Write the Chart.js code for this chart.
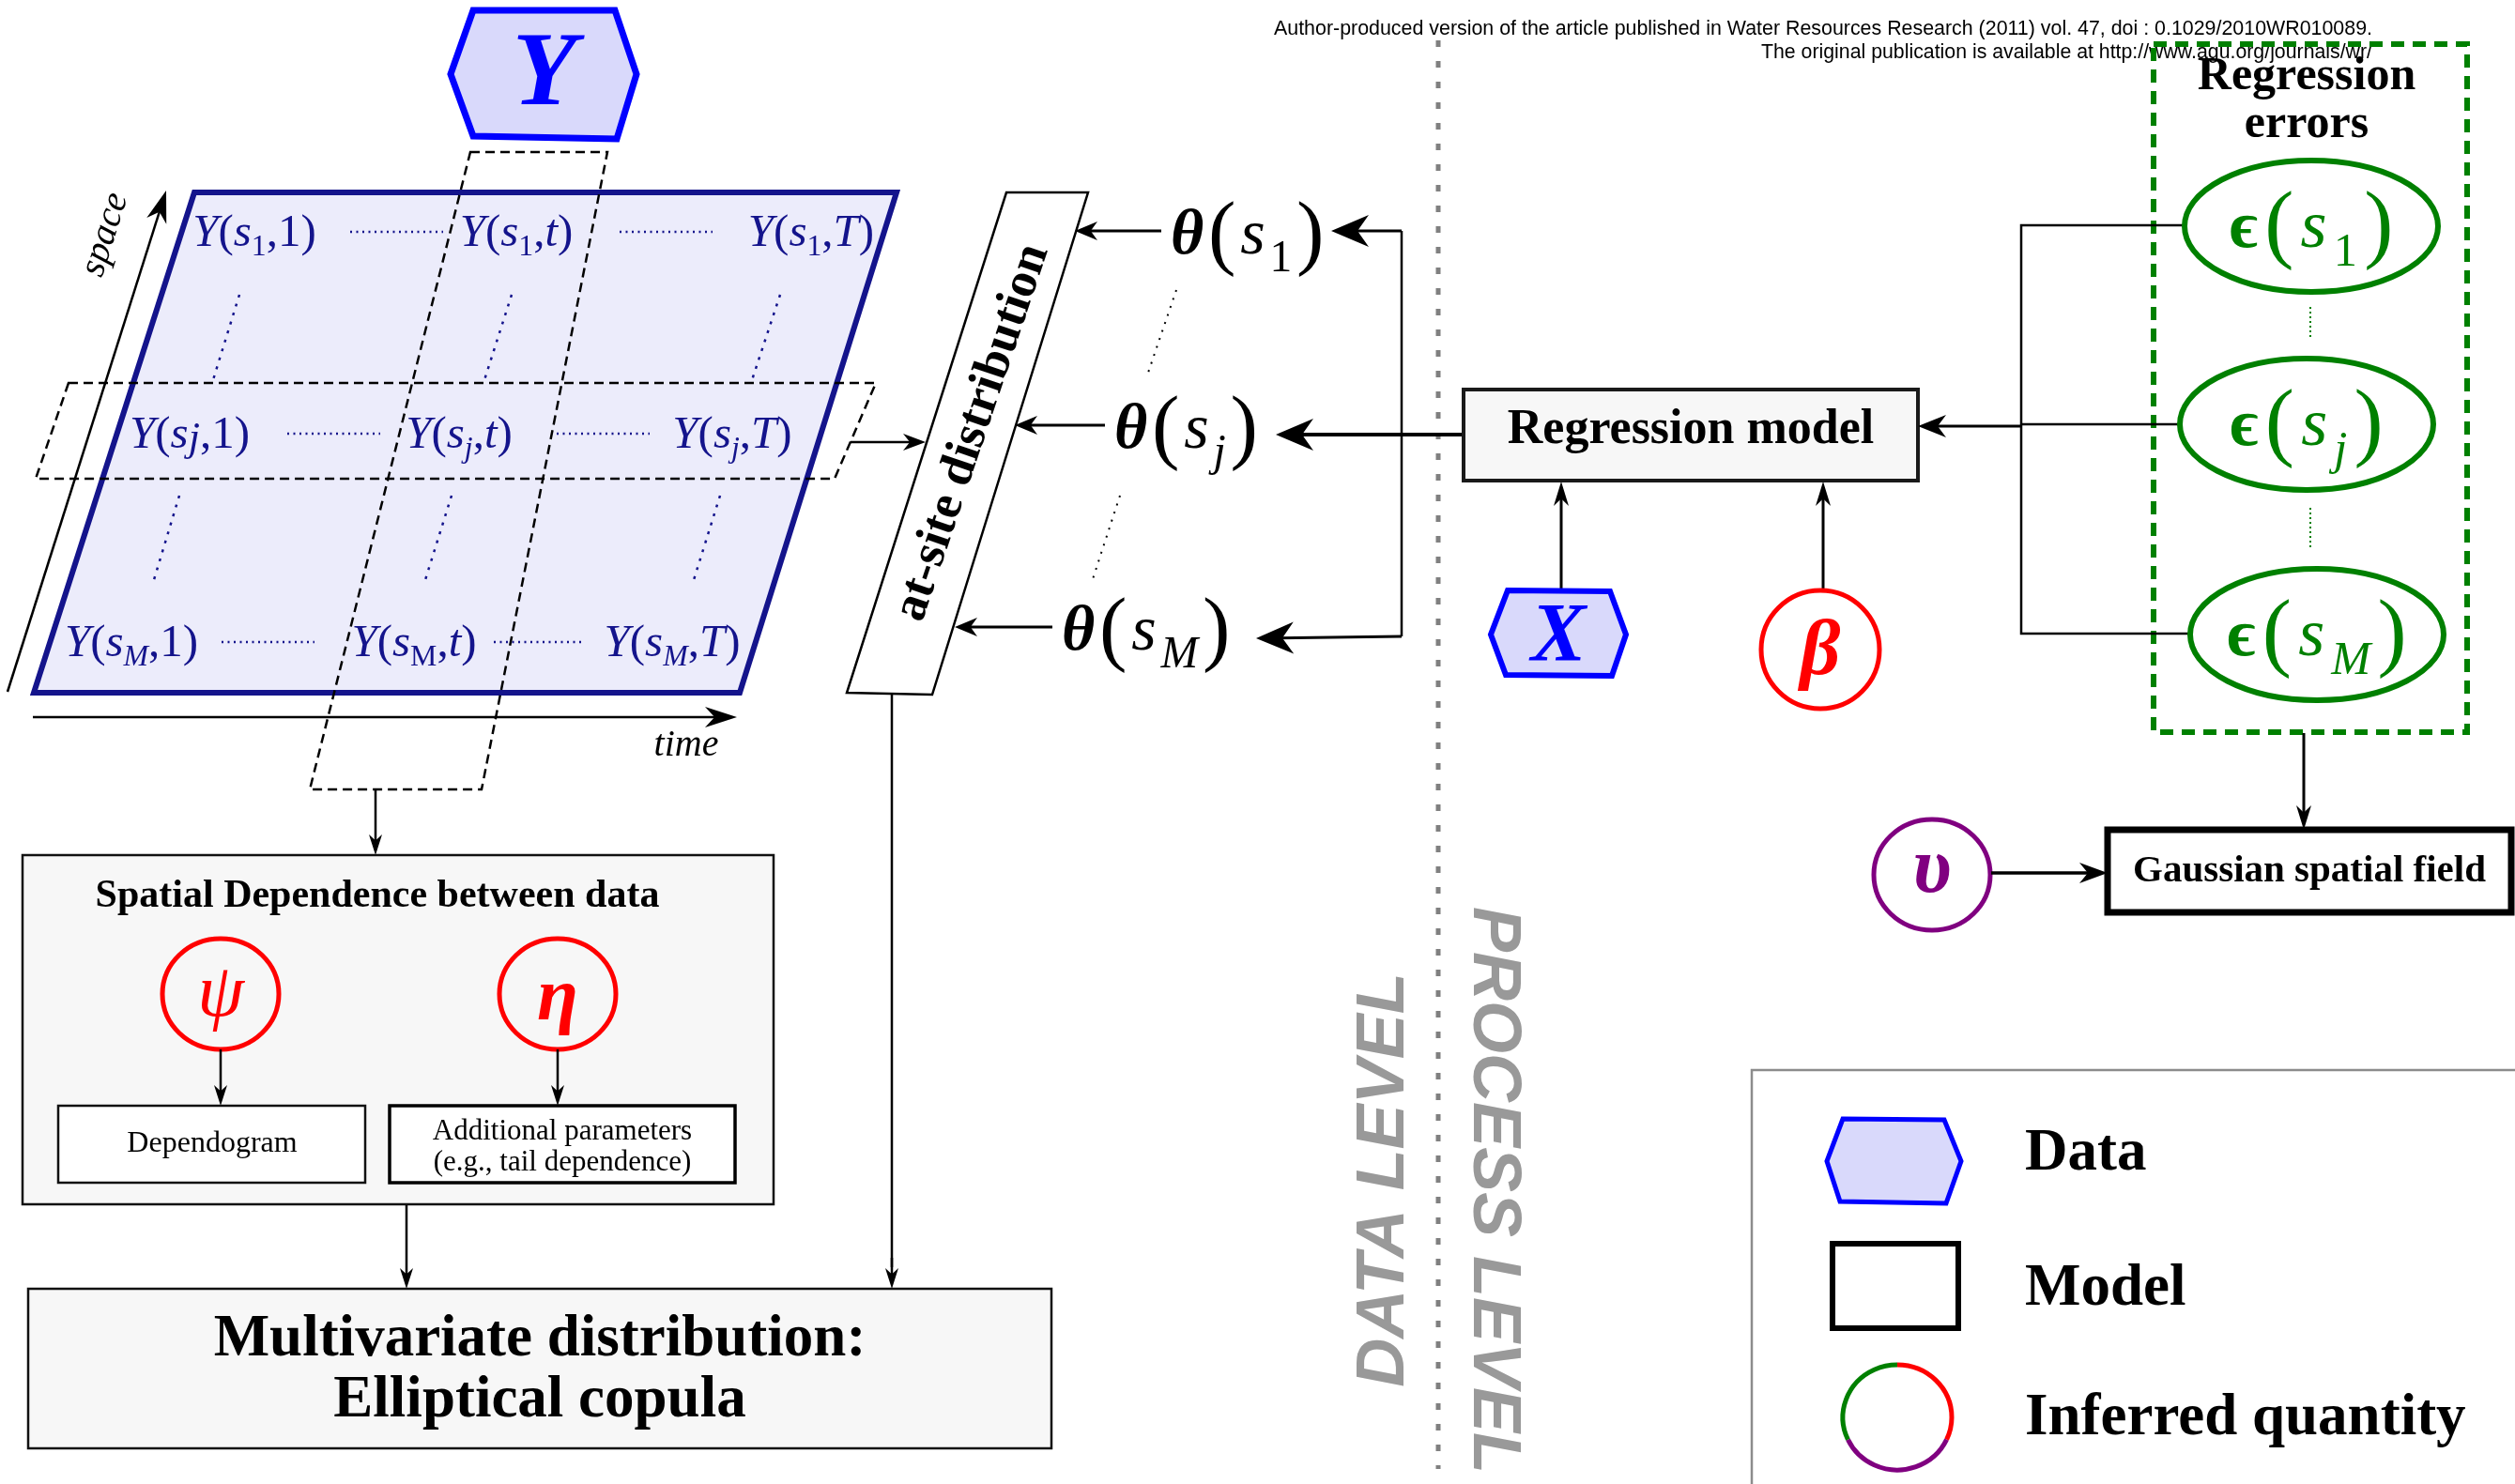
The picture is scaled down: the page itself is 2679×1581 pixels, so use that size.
<!DOCTYPE html>
<html>
<head>
<meta charset="utf-8">
<script src="https://cdn.jsdelivr.net/npm/chart.js@4.4.1/dist/chart.umd.min.js"></script>
<style>
  html, body { margin: 0; padding: 0; background: #fff; overflow: hidden; }
</style>
</head>
<body>
<canvas id="diagram" width="2679" height="1581"></canvas>
<script>
const SERIF = "'Liberation Serif','DejaVu Serif',serif";
const SANS = "'Liberation Sans','DejaVu Sans',sans-serif";

// ---- content of the figure ----
const headerLines = [
    'Author-produced version of the article published in Water Resources Research (2011) vol. 47, doi : 0.1029/2010WR010089.',
    'The original publication is available at http://www.agu.org/journals/wr/'
];
const siteIdx = ['1', 'j', 'M'];
const timeIdx = ['1', 't', 'T'];
const paramSyms = ['ψ', 'η', 'β', 'υ'];
const levelLabels = ['DATA LEVEL', 'PROCESS LEVEL'];
const legendLabels = ['Data', 'Model', 'Inferred quantity'];

// ---- layout (diagram units, mapped through the chart scales) ----
const cellX = [[271, 550, 864], [202, 489, 780], [140, 441, 716]];
const cellY = [247, 462, 684];
const cellDots = [[373, 472, 660, 759], [306, 405, 593, 692], [236, 335, 526, 622]];
const colDots = [
    [[255, 314], [226, 408]], [[545, 314], [515, 408]], [[831, 314], [800, 408]],
    [[191, 528], [163, 621]], [[481, 528], [452, 621]], [[767, 528], [738, 621]]
];
const thetaLeft = [1247, 1187, 1131];
const thetaY = [250, 457, 672];
const epsX = [2462, 2457, 2468];
const epsY = [241, 452, 676];
const paramX = [235, 594, 1939, 2058];
const paramY = [1059, 1059, 692, 932];

const sheet = [[207, 205], [955, 205], [788, 738], [36, 738]];
const stripV = [[501, 162], [647, 162], [513, 841], [330, 841]];
const stripH = [[73, 408], [933, 408], [889, 510], [38, 510]];
const atSite = [[1072, 205], [1159, 205], [993, 740], [902, 738]];
const hexY = [[504, 11], [655, 11], [678, 79], [657, 148], [504, 145], [480, 79]];
const hexX = [[1606, 629], [1715, 630], [1732, 676], [1717, 720], [1604, 719], [1588, 676]];
const hexLegend = [[1963, 1192], [2071, 1193], [2089, 1237], [2073, 1282], [1960, 1280], [1946, 1237]];

const chartData = {
    datasets: [{
        label: 'nodes',
        data: paramX.map((x, i) => ({ x: x, y: paramY[i] })),
        pointRadius: 0,
        showLine: false
    }]
};

// ---- drawing helpers ----
let px, py;
function path(ctx, pts, close) {
    ctx.beginPath();
    pts.forEach((p, i) => i ? ctx.lineTo(px(p[0]), py(p[1])) : ctx.moveTo(px(p[0]), py(p[1])));
    if (close) ctx.closePath();
}
function line(ctx, pts, col, w, dash) {
    ctx.save();
    path(ctx, pts, false);
    ctx.strokeStyle = col; ctx.lineWidth = w; ctx.setLineDash(dash || []);
    ctx.stroke();
    ctx.restore();
}
function poly(ctx, pts, col, w, fill, dash) {
    ctx.save();
    path(ctx, pts, true);
    if (fill) { ctx.fillStyle = fill; ctx.fill(); }
    ctx.strokeStyle = col; ctx.lineWidth = w; ctx.setLineDash(dash || []);
    ctx.lineJoin = 'miter';
    ctx.stroke();
    ctx.restore();
}
function rect(ctx, x1, y1, x2, y2, col, w, fill) {
    poly(ctx, [[x1, y1], [x2, y1], [x2, y2], [x1, y2]], col, w, fill);
}
function ellipse(ctx, cx, cy, rx, ry, col, w) {
    ctx.save();
    ctx.beginPath();
    ctx.ellipse(px(cx), py(cy), rx, ry, 0, 0, Math.PI * 2);
    ctx.strokeStyle = col; ctx.lineWidth = w;
    ctx.stroke();
    ctx.restore();
}
function arrow(ctx, a, b, col, w, L, W) {
    const x1 = px(a[0]), y1 = py(a[1]), x2 = px(b[0]), y2 = py(b[1]);
    const d = Math.hypot(x2 - x1, y2 - y1), ux = (x2 - x1) / d, uy = (y2 - y1) / d;
    const nx = -uy, ny = ux;
    ctx.save();
    ctx.strokeStyle = col; ctx.fillStyle = col; ctx.lineWidth = w;
    ctx.beginPath();
    ctx.moveTo(x1, y1);
    ctx.lineTo(x2 - ux * L * 0.6, y2 - uy * L * 0.6);
    ctx.stroke();
    ctx.beginPath();
    ctx.moveTo(x2, y2);
    ctx.lineTo(x2 - ux * L + nx * W, y2 - uy * L + ny * W);
    ctx.lineTo(x2 - ux * L * 0.7, y2 - uy * L * 0.7);
    ctx.lineTo(x2 - ux * L - nx * W, y2 - uy * L - ny * W);
    ctx.closePath();
    ctx.fill();
    ctx.restore();
}
function text(ctx, str, x, y, font, col, align, maxW) {
    ctx.save();
    ctx.font = font; ctx.fillStyle = col;
    ctx.textAlign = align || 'center'; ctx.textBaseline = 'middle';
    if (maxW) ctx.fillText(str, px(x), py(y), maxW); else ctx.fillText(str, px(x), py(y));
    ctx.restore();
}
function rotText(ctx, str, x, y, angle, font, col) {
    ctx.save();
    ctx.translate(px(x), py(y));
    ctx.rotate(angle * Math.PI / 180);
    ctx.font = font; ctx.fillStyle = col;
    ctx.textAlign = 'center'; ctx.textBaseline = 'middle';
    ctx.fillText(str, 0, 0);
    ctx.restore();
}
// parts: [text, style, scale, dy(em)]
function math(ctx, parts, x, y, size, col, align, gap) {
    ctx.save();
    ctx.fillStyle = col; ctx.textBaseline = 'alphabetic'; ctx.textAlign = 'left';
    const g = (gap || 0) * size;
    let widths = parts.map(p => { ctx.font = `${p[1]} ${size * p[2]}px ${SERIF}`; return ctx.measureText(p[0]).width; });
    let total = widths.reduce((s, v) => s + v, 0) + g * (parts.length - 1);
    let cx = align === 'left' ? px(x) : px(x) - total / 2;
    const base = py(y) + size * 0.3;
    parts.forEach((p, i) => {
        ctx.font = `${p[1]} ${size * p[2]}px ${SERIF}`;
        ctx.fillText(p[0], cx, base + (p[3] || 0) * size);
        cx += widths[i] + g;
    });
    ctx.restore();
}
function cellParts(r, c) {
    const s = siteIdx[r], t = timeIdx[c];
    const subStyle = s === '1' ? '' : (s === 'M' && c === 1 ? '' : 'italic');
    const parts = [['Y', 'italic', 1], ['(', '', 1], ['s', 'italic', 1]];
    if (s === 'j' && c === 0) parts.push(['j', 'italic', 0.9, 0.06]);
    else parts.push([s, subStyle, 0.65, 0.22]);
    parts.push([',', '', 1], [t, t === '1' ? '' : 'italic', 1], [')', '', 1]);
    return parts;
}
function argParts(sym, symStyle, k) {
    return [[sym, symStyle, 1], ['(', '', 1.3, 0.08], ['s', 'italic', 1],
        [k, k === '1' ? '' : 'italic', 0.7, 0.28], [')', '', 1.3, 0.08]];
}

const NAVY = '#14148c', BLUE = '#0000ff', GREEN = '#008000', RED = '#ff0000', PURPLE = '#800080';

const diagramPlugin = {
    id: 'diagram',
    afterDraw(chart) {
        const ctx = chart.ctx;
        px = v => chart.scales.x.getPixelForValue(v);
        py = v => chart.scales.y.getPixelForValue(v);

        // header
        text(ctx, headerLines[0], 1357, 31, `21.5px ${SANS}`, '#000', 'left', 1170);
        text(ctx, headerLines[1], 2527, 56, `21.5px ${SANS}`, '#000', 'right', 651);

        // level separator
        line(ctx, [[1532, 43], [1532, 1565]], '#808080', 5, [7, 15]);
        rotText(ctx, levelLabels[0], 1475, 1257, -90, `bold italic 72px ${SANS}`, '#999');
        rotText(ctx, levelLabels[1], 1590, 1268, 90, `bold italic 72px ${SANS}`, '#999');

        // data sheet
        poly(ctx, sheet, NAVY, 6, '#ececfb');
        for (let r = 0; r < 3; r++) {
            for (let c = 0; c < 3; c++) math(ctx, cellParts(r, c), cellX[r][c], cellY[r], 49, NAVY, 'center');
            const d = cellDots[r];
            line(ctx, [[d[0], cellY[r]], [d[1], cellY[r]]], NAVY, 2.5, [2, 4.5]);
            line(ctx, [[d[2], cellY[r]], [d[3], cellY[r]]], NAVY, 2.5, [2, 4.5]);
        }
        colDots.forEach(s => line(ctx, s, NAVY, 2.5, [3, 7]));
        poly(ctx, stripH, '#000', 2.5, null, [10, 6]);
        poly(ctx, stripV, '#000', 2.5, null, [10, 6]);

        // Y hexagon
        poly(ctx, hexY, BLUE, 7, '#d9d9fb');
        text(ctx, 'Y', 580, 82, `bold italic 112px ${SERIF}`, BLUE);

        // space / time axes
        arrow(ctx, [8, 737], [177, 203], '#000', 2.5, 34, 11);
        rotText(ctx, 'space', 112, 250, -72.4, `italic 40px ${SERIF}`, '#000');
        arrow(ctx, [35, 764], [785, 764], '#000', 2.5, 34, 11);
        text(ctx, 'time', 731, 794, `italic 40px ${SERIF}`, '#000');

        // at-site distribution
        poly(ctx, atSite, '#000', 2.5, '#fff');
        rotText(ctx, 'at-site distribution', 1036, 461, -71.3, `bold 53px ${SERIF}`, '#000');
        arrow(ctx, [906, 471], [986, 471], '#000', 2.5, 24, 9);

        // theta nodes
        const atEdge = [1145, 1081, 1017];
        for (let i = 0; i < 3; i++) {
            arrow(ctx, [thetaLeft[i] - 10, thetaY[i] - 4], [atEdge[i], thetaY[i] - 4], '#000', 3, 24, 10);
            math(ctx, argParts('θ', 'bold italic', siteIdx[i]), thetaLeft[i], thetaY[i], 68, '#000', 'left', 0.07);
        }
        line(ctx, [[1253, 309], [1222, 400]], '#000', 2, [2, 7]);
        line(ctx, [[1193, 528], [1163, 620]], '#000', 2, [2, 7]);

        // regression model to thetas
        line(ctx, [[1493, 246], [1493, 678]], '#000', 2.5);
        arrow(ctx, [1493, 246], [1418, 246], '#000', 3, 40, 17);
        arrow(ctx, [1559, 463], [1359, 463], '#000', 4, 40, 17);
        arrow(ctx, [1493, 678], [1338, 680], '#000', 3, 40, 17);

        rect(ctx, 1559, 415, 2043, 512, '#1a1a1a', 4, '#f7f7f7');
        text(ctx, 'Regression model', 1801, 459, `bold 52px ${SERIF}`, '#000');

        // covariates X and beta
        arrow(ctx, [1663, 630], [1663, 513], '#000', 3, 26, 8);
        arrow(ctx, [1942, 630], [1942, 513], '#000', 3, 26, 8);
        poly(ctx, hexX, BLUE, 6, '#d9d9fb');
        text(ctx, 'X', 1660, 680, `bold italic 88px ${SERIF}`, BLUE);
        ellipse(ctx, paramX[2], paramY[2], 63, 63, RED, 5);
        text(ctx, paramSyms[2], paramX[2], paramY[2] + 4, `bold italic 84px ${SERIF}`, RED);

        // regression errors
        poly(ctx, [[2294, 47], [2628, 47], [2628, 780], [2294, 780]], GREEN, 6, null, [14, 9]);
        text(ctx, 'Regression', 2457, 82, `bold 50px ${SERIF}`, '#000');
        text(ctx, 'errors', 2457, 133, `bold 50px ${SERIF}`, '#000');
        line(ctx, [[2326, 240], [2153, 240], [2153, 675], [2332, 675]], '#000', 2.5);
        line(ctx, [[2153, 452], [2321, 452]], '#000', 2.5);
        arrow(ctx, [2153, 454], [2043, 454], '#000', 3, 30, 12);
        for (let i = 0; i < 3; i++) {
            ellipse(ctx, epsX[i], epsY[i], 135, 70, GREEN, 6);
            math(ctx, argParts('ϵ', 'bold', siteIdx[i]), epsX[i], epsY[i], 72, GREEN, 'center', 0.1);
        }
        line(ctx, [[2461, 327], [2461, 360]], GREEN, 2, [2, 3]);
        line(ctx, [[2461, 541], [2461, 584]], GREEN, 2, [2, 3]);

        // gaussian field
        arrow(ctx, [2454, 781], [2454, 884], '#000', 3, 26, 8);
        rect(ctx, 2245, 884, 2675, 972, '#000', 7, '#fff');
        text(ctx, 'Gaussian spatial field', 2460, 928, `bold 41px ${SERIF}`, '#000');
        ellipse(ctx, paramX[3], paramY[3], 62, 59, PURPLE, 5);
        text(ctx, paramSyms[3], paramX[3], paramY[3] - 4, `bold italic 84px ${SERIF}`, PURPLE);
        arrow(ctx, [2121, 930], [2245, 930], '#000', 3.5, 30, 11);

        // spatial dependence
        arrow(ctx, [400, 841], [400, 911], '#000', 2.5, 22, 7);
        rect(ctx, 24, 911, 824, 1283, '#111', 2.5, '#f7f7f7');
        text(ctx, 'Spatial Dependence between data', 402, 955, `bold 42px ${SERIF}`, '#000');
        ellipse(ctx, paramX[0], paramY[0], 62, 59, RED, 5);
        ellipse(ctx, paramX[1], paramY[1], 62, 59, RED, 5);
        text(ctx, paramSyms[0], paramX[0], paramY[0] + 2, `italic 80px ${SERIF}`, RED);
        text(ctx, paramSyms[1], paramX[1], paramY[1] + 6, `bold italic 80px ${SERIF}`, RED);
        arrow(ctx, [235, 1118], [235, 1178], '#000', 2.5, 22, 7);
        arrow(ctx, [594, 1118], [594, 1178], '#000', 2.5, 22, 7);
        rect(ctx, 62, 1178, 389, 1260, '#111', 2.5, '#fff');
        rect(ctx, 415, 1178, 783, 1260, '#000', 3.5, '#fff');
        text(ctx, 'Dependogram', 226, 1219, `32px ${SERIF}`, '#000');
        text(ctx, 'Additional parameters', 599, 1206, `31px ${SERIF}`, '#000');
        text(ctx, '(e.g., tail dependence)', 599, 1239, `31px ${SERIF}`, '#000');

        // multivariate distribution
        arrow(ctx, [433, 1284], [433, 1373], '#000', 2.5, 22, 7);
        line(ctx, [[950, 740], [950, 1350]], '#000', 2.5);
        arrow(ctx, [950, 1340], [950, 1373], '#000', 2.5, 22, 7);
        rect(ctx, 30, 1373, 1120, 1543, '#111', 2.5, '#f7f7f7');
        text(ctx, 'Multivariate distribution:', 575, 1428, `bold 63px ${SERIF}`, '#000');
        text(ctx, 'Elliptical copula', 575, 1493, `bold 63px ${SERIF}`, '#000');

        // legend
        line(ctx, [[1866, 1581], [1866, 1140], [2679, 1140]], '#8c8c8c', 2.5);
        poly(ctx, hexLegend, BLUE, 5, '#d9d9fb');
        rect(ctx, 1952, 1325, 2086, 1415, '#000', 6, null);
        const cx = px(2021), cy = py(1510);
        [[RED, -90, 25], [PURPLE, 25, 155], [GREEN, 155, 270]].forEach(a => {
            ctx.save();
            ctx.beginPath();
            ctx.ellipse(cx, cy, 58, 56, 0, a[1] * Math.PI / 180, a[2] * Math.PI / 180);
            ctx.strokeStyle = a[0]; ctx.lineWidth = 5; ctx.stroke();
            ctx.restore();
        });
        legendLabels.forEach((l, i) => text(ctx, l, 2157, [1230, 1374, 1512][i], `bold 63px ${SERIF}`, '#000', 'left'));
    }
};

new Chart(document.getElementById('diagram'), {
    type: 'scatter',
    data: chartData,
    options: {
        responsive: false,
        animation: false,
        devicePixelRatio: 1,
        layout: { padding: 0 },
        plugins: { legend: { display: false }, tooltip: { enabled: false }, title: { display: false } },
        scales: {
            x: { type: 'linear', min: 0, max: 2679, display: false },
            y: { type: 'linear', min: 0, max: 1581, reverse: true, display: false }
        }
    },
    plugins: [diagramPlugin]
});
</script>
</body>
</html>
